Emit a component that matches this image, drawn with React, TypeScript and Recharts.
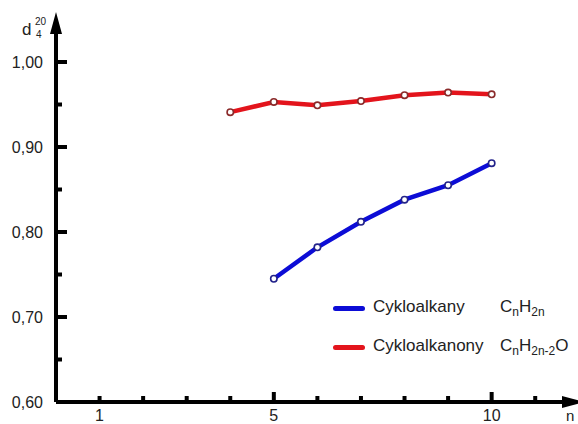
import React from "react";
import { LineChart, Line, XAxis, YAxis } from "recharts";

const nValues = [4, 5, 6, 7, 8, 9, 10];
const cykloalkany = [null, 0.745, 0.782, 0.812, 0.838, 0.855, 0.881];
const cykloalkanony = [0.941, 0.953, 0.949, 0.954, 0.961, 0.964, 0.962];

const xTicks = [1, 2, 3, 4, 5, 6, 7, 8, 9, 10, 11];
const xLabels = [1, 5, 10];
const yTicks = [0.6, 0.65, 0.7, 0.75, 0.8, 0.85, 0.9, 0.95, 1.0];
const yLabels = ["0,60", "0,70", "0,80", "0,90", "1,00"];

const data = nValues.map((n, i) => ({
  n,
  alkany: cykloalkany[i],
  alkanony: cykloalkanony[i],
}));

const FONT = "'Liberation Sans', Arial, sans-serif";
const TEXT = "#222";
const BLUE = "#0c0cd6";
const RED = "#e3141c";

const YTick = (props: any) => {
  const { x, y, payload } = props;
  const v = payload.value;
  const label = v.toFixed(2).replace(".", ",");
  const major = yLabels.includes(label);
  return (
    <g>
      <line x1={x} x2={x + (major ? 11 : 6)} y1={y} y2={y} stroke="#000" strokeWidth={4} />
      {major && (
        <text x={x - 13} y={y} dy={6} textAnchor="end" fontSize={16} fontFamily={FONT} fill={TEXT}>
          {label}
        </text>
      )}
    </g>
  );
};

const XTick = (props: any) => {
  const { x, y, payload } = props;
  const v = payload.value;
  const major = v === 5 || v === 10;
  return (
    <g>
      <line x1={x} x2={x} y1={y} y2={y - (major ? 10 : 6)} stroke="#000" strokeWidth={4} />
      {xLabels.includes(v) && (
        <text x={x} y={y} dy={19} textAnchor="middle" fontSize={16} fontFamily={FONT} fill={TEXT}>
          {v}
        </text>
      )}
    </g>
  );
};

const legendItems = [
  { label: "Cykloalkany", color: BLUE, formula: ["n", "2n", ""] },
  { label: "Cykloalkanony", color: RED, formula: ["n", "2n-2", "O"] },
];

const LegendBox = () => (
  <div style={{ position: "absolute", left: 333, top: 297, width: 245, fontFamily: FONT, fontSize: 17, color: TEXT }}>
    {legendItems.map((it) => (
      <div key={it.label} style={{ position: "relative", height: 39 }}>
        <div
          style={{
            position: "absolute",
            left: 0,
            top: 9,
            width: 32,
            height: 5,
            borderRadius: 3,
            background: it.color,
          }}
        />
        <span style={{ position: "absolute", left: 40, top: 0 }}>{it.label}</span>
        <span style={{ position: "absolute", left: 167, top: 0, whiteSpace: "nowrap" }}>
          C<sub style={{ fontSize: 12 }}>{it.formula[0]}</sub>H
          <sub style={{ fontSize: 12 }}>{it.formula[1]}</sub>
          {it.formula[2]}
        </span>
      </div>
    ))}
  </div>
);

export default function App() {
  return (
    <div style={{ position: "absolute", left: 0, top: 0, width: 578, height: 424, background: "#fff", overflow: "hidden" }}>
      <LineChart width={578} height={424} data={data} margin={{ top: 62, right: 21, bottom: 0, left: 0 }}>
        <XAxis
          dataKey="n"
          type="number"
          domain={[0, 11.5]}
          ticks={xTicks}
          height={22}
          tickSize={0}
          tickMargin={0}
          tickLine={false}
          axisLine={{ stroke: "#000", strokeWidth: 4 }}
          tick={<XTick />}
          interval={0}
        />
        <YAxis
          type="number"
          domain={[0.6, 1.0]}
          ticks={yTicks}
          width={56}
          tickSize={0}
          tickMargin={0}
          tickLine={false}
          axisLine={{ stroke: "#000", strokeWidth: 4 }}
          tick={<YTick />}
          interval={0}
        />
        <Line
          dataKey="alkany"
          stroke={BLUE}
          strokeWidth={4.5}
          dot={{ r: 3.2, fill: "#fff", stroke: "#22228a", strokeWidth: 1.6 }}
          isAnimationActive={false}
          connectNulls={false}
        />
        <Line
          dataKey="alkanony"
          stroke={RED}
          strokeWidth={4.5}
          dot={{ r: 3.2, fill: "#fff", stroke: "#8a2a2a", strokeWidth: 1.6 }}
          isAnimationActive={false}
        />
      </LineChart>
      <LegendBox />
      <svg width={578} height={424} style={{ position: "absolute", left: 0, top: 0, pointerEvents: "none" }}>
        <line x1={56} x2={56} y1={64} y2={30} stroke="#000" strokeWidth={4} />
        <polygon points="56,12 50,34 62,34" fill="#000" />
        <line x1={555} x2={566} y1={402} y2={402} stroke="#000" strokeWidth={4} />
        <polygon points="584,402 562,396 562,408" fill="#000" />
        <text x={566} y={421} fontSize={15} fontFamily={FONT} fill={TEXT}>n</text>
        <text x={22} y={35} fontSize={17} fontFamily={FONT} fill={TEXT}>d</text>
        <text x={35} y={25} fontSize={10} fontFamily={FONT} fill={TEXT}>20</text>
        <text x={36} y={38} fontSize={10} fontFamily={FONT} fill={TEXT}>4</text>
      </svg>
    </div>
  );
}
